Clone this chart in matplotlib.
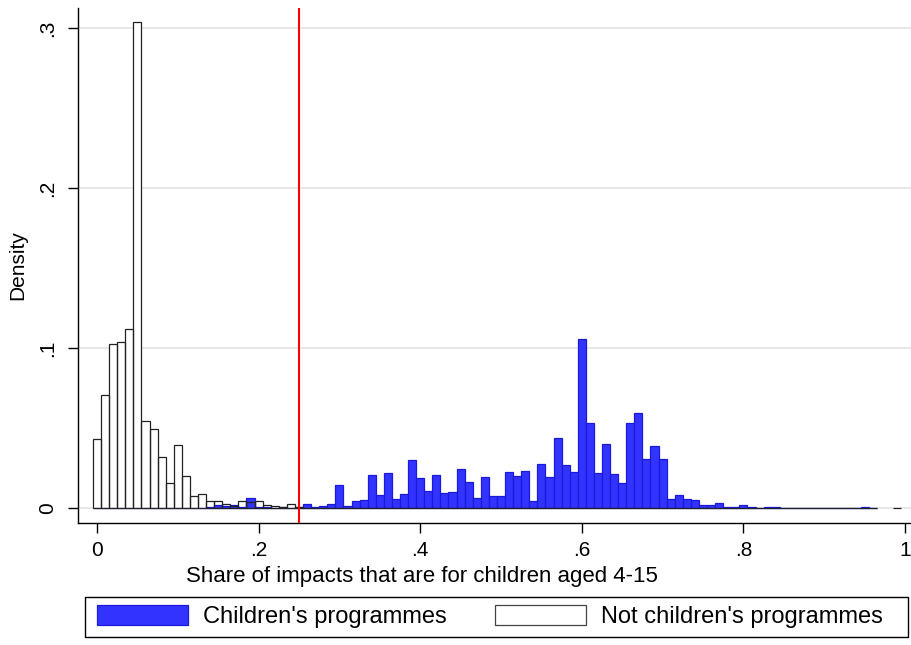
import numpy as np
import matplotlib
matplotlib.use('Agg')
import matplotlib.pyplot as plt
from matplotlib.patches import Patch, Rectangle

plt.rcParams['font.family'] = ['Liberation Sans', 'DejaVu Sans']

## DATA (density per bin of width .01, bins centred on 0, .01, .02, ...)

bin_width = 0.01

# children's programmes, bins .00 to .96
children = [0.0005, 0.0, 0.0, 0.0003, 0.0, 0.0005, 0.0, 0.0, 0.0, 0.0,
            0.0, 0.0005, 0.0005, 0.0003, 0.0006, 0.0019, 0.0015, 0.0023, 0.0010, 0.0063,
            0.0008, 0.0006, 0.0004, 0.0006, 0.0004, 0.0012, 0.0025, 0.0006, 0.0017, 0.0025,
            0.0148, 0.0013, 0.0046, 0.0052, 0.0207, 0.0083, 0.0221, 0.0056, 0.0090, 0.0302,
            0.0188, 0.0110, 0.0208, 0.0098, 0.0100, 0.0246, 0.0165, 0.0066, 0.0196, 0.0080,
            0.0077, 0.0225, 0.0202, 0.0231, 0.0044, 0.0277, 0.0198, 0.0440, 0.0271, 0.0227,
            0.1058, 0.0533, 0.0223, 0.0402, 0.0213, 0.0156, 0.0535, 0.0596, 0.0306, 0.0390,
            0.0308, 0.0056, 0.0085, 0.0062, 0.0050, 0.0019, 0.0019, 0.0031, 0.0012, 0.0008,
            0.0023, 0.0008, 0.0004, 0.0006, 0.0012, 0.0005, 0.0003, 0.0003, 0.0004, 0.0003,
            0.0002, 0.0003, 0.0002, 0.0003, 0.0002, 0.0006, 0.0]

# not children's programmes, bins .00 to .99 (nan = no bar)
not_children = [0.0432, 0.0709, 0.1028, 0.1039, 0.1120, 0.3039, 0.0548, 0.0498, 0.0323, 0.0160,
                0.0394, 0.0202, 0.0077, 0.0092, 0.0045, 0.0048, 0.0030, 0.0018, 0.0048, 0.0040,
                0.0044, 0.0023, 0.0015, 0.0008, 0.0025, 0.0006, 0.0, 0.0, 0.0, 0.0,
                0.0, 0.0, 0.0, 0.0, 0.0, 0.0, 0.0, 0.0, 0.0, 0.0,
                0.0, 0.0, 0.0, 0.0, 0.0, 0.0, 0.0, 0.0, 0.0, 0.0,
                0.0, 0.0, 0.0, 0.0, 0.0, 0.0, 0.0, 0.0, 0.0, 0.0,
                0.0, 0.0, 0.0, 0.0, 0.0, 0.0, 0.0, 0.0, 0.0, 0.0,
                0.0, 0.0, 0.0, 0.0, 0.0, 0.0, 0.0, 0.0, 0.0, 0.0,
                0.0, 0.0, 0.0, 0.0, 0.0, 0.0, 0.0, 0.0, 0.0, 0.0,
                0.0, 0.0, 0.0, 0.0, 0.0, 0.0, 0.0, np.nan, np.nan, 0.0]

cutoff = 0.25

xticks = [0, 0.2, 0.4, 0.6, 0.8, 1.0]
xticklabels = ['0', '.2', '.4', '.6', '.8', '1']
yticks = [0, 0.1, 0.2, 0.3]
yticklabels = ['0', '.1', '.2', '.3']
legend_labels = ["Children's programmes", "Not children's programmes"]

x_children = np.arange(len(children)) * bin_width
x_not = np.arange(len(not_children)) * bin_width

## PLOT

W, H = 911, 645
fig = plt.figure(figsize=(W/100, H/100), dpi=100)
ax = fig.add_axes([78/W, 122/H, 833/W, 515/H])

fs = 15
blue = '#3333ff'
blue_edge = '#1a1ad8'

# white fill first, blue bars, then white outlines on top
ax.bar(x_not, not_children, width=bin_width, color='white', edgecolor='none', zorder=2)
ax.bar(x_children, children, width=bin_width, color=blue, edgecolor=blue_edge,
       linewidth=0.9, zorder=3)
ax.bar(x_not, not_children, width=bin_width, facecolor='none', edgecolor='#222222',
       linewidth=0.9, zorder=4)

ax.axvline(cutoff, color='red', linewidth=1.5, zorder=5)

ax.set_xlim(-0.0235, 1.0074)
ax.set_ylim(-0.0091, 0.3128)
ax.set_xticks(xticks)
ax.set_xticklabels(xticklabels, fontsize=fs)
ax.set_yticks(yticks)
ax.set_yticklabels(yticklabels, fontsize=fs, rotation=90, va='center')
ax.tick_params(axis='both', length=7, width=1.0, color='black')
ax.tick_params(axis='x', pad=6)
ax.tick_params(axis='y', pad=8)

ax.yaxis.grid(True, color='#e6e6e6', linewidth=1.3, zorder=0)
ax.set_axisbelow(True)

for s in ['top', 'right']:
    ax.spines[s].set_visible(False)
for s in ['left', 'bottom']:
    ax.spines[s].set_linewidth(1.0)

ax.set_ylabel('Density', fontsize=fs, labelpad=8)
ax.set_xlabel('Share of impacts that are for children aged 4-15', fontsize=16)
ax.xaxis.set_label_coords(0.413, -0.083)

# legend: frame box + one entry per column
fig.patches.append(Rectangle((85/W, 8/H), 823/W, 40/H, transform=fig.transFigure,
                             facecolor='white', edgecolor='black', linewidth=1.0))
handles = [Patch(facecolor=blue, edgecolor=blue_edge, linewidth=0.9),
           Patch(facecolor='white', edgecolor='#444444', linewidth=0.9)]
for h, lab, x0 in zip(handles, legend_labels, [97, 495]):
    lg = fig.legend([h], [lab], loc='center left', bbox_to_anchor=(x0/W, 1 - 616.5/H),
                    fontsize=17, frameon=False, handlelength=3.85, handleheight=0.97,
                    borderpad=0, borderaxespad=0, handletextpad=0.62)

fig.savefig('out.png', dpi=100)
